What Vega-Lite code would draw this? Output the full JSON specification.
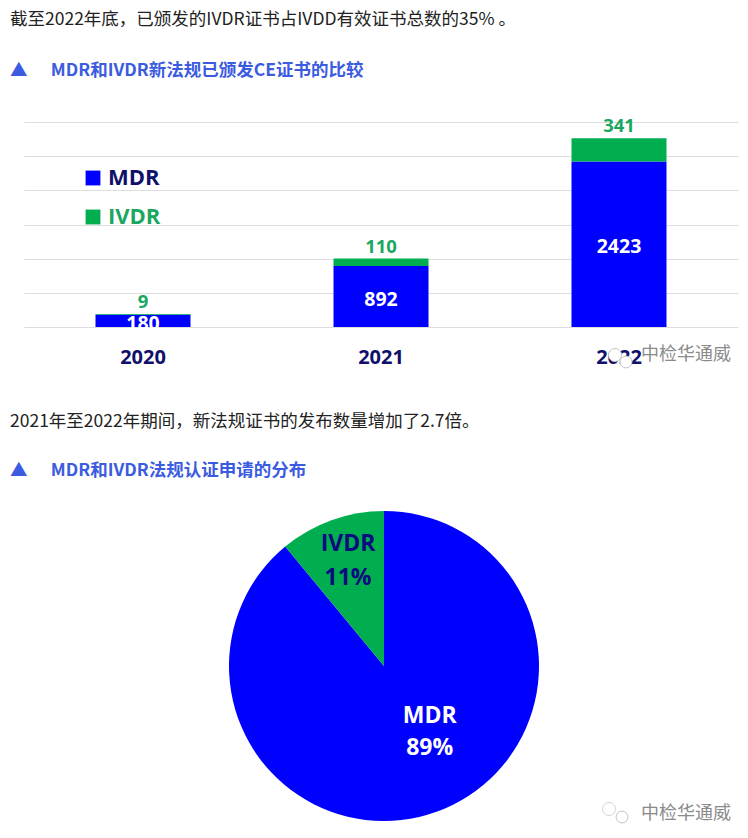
{
"$schema":"https://vega.github.io/schema/vega-lite/v6.json",
"background":"white",
"padding":{"left":10,"top":11,"right":4,"bottom":0},
"spacing":43,
"config":{"view":{"stroke":null},"font":"Noto Sans CJK SC"},
"vconcat":[
{
"title":{"text":"截至2022年底\uff0c已颁发的IVDR证书占IVDD有效证书总数的35% 。","subtitle":"▲\u2003\u2004MDR和IVDR新法规已颁发CE证书的比较","anchor":"start","dx":-14,"fontSize":17.5,"fontWeight":"normal","color":"#222222","subtitleFontSize":17.5,"subtitleFontWeight":"bold","subtitleColor":"#3b5be0","subtitlePadding":33,"offset":38,"font":"Noto Sans CJK SC","subtitleFont":"Noto Sans CJK SC"},
"width":714,"height":205,
"data":{"values":[
{"year":"2020","series":"MDR","value":180},{"year":"2020","series":"IVDR","value":9},
{"year":"2021","series":"MDR","value":892},{"year":"2021","series":"IVDR","value":110},
{"year":"2022","series":"MDR","value":2423},{"year":"2022","series":"IVDR","value":341}]},
"encoding":{
"x":{"field":"year","type":"nominal","scale":{"domain":["2020","2021","2022"],"paddingInner":0.6,"paddingOuter":0.3},"axis":{"title":null,"labelAngle":0,"domain":false,"ticks":false,"labelFontSize":20,"labelFontWeight":"bold","labelColor":"#10106a","labelPadding":20,"labelFont":"Open Sans"}}
},
"layer":[
{"mark":{"type":"bar","width":95},
"encoding":{
"y":{"field":"value","type":"quantitative","stack":"zero","scale":{"domain":[0,3000]},"axis":{"title":null,"labels":false,"ticks":false,"domain":false,"grid":true,"gridColor":"#dddddd","values":[0,500,1000,1500,2000,2500,3000]}},
"order":{"field":"series","sort":"descending"},
"color":{"field":"series","type":"nominal","scale":{"domain":["MDR","IVDR"],"range":["#0000ff","#00ae50"]},"legend":{"title":null,"orient":"none","legendX":58,"legendY":45,"symbolType":"square","symbolSize":220,"symbolStrokeWidth":0,"labelFontSize":22,"labelFontWeight":"bold","labelFont":"Open Sans","rowPadding":17,"encode":{"labels":{"update":{"fill":{"signal":"datum.value==='IVDR' ? '#1aa860' : '#10106a'"}}}}}}}},
{"mark":{"type":"text","color":"white","fontSize":19.5,"fontWeight":"bold","font":"Open Sans","dy":3},
"encoding":{"y":{"field":"value","type":"quantitative","stack":"zero","bandPosition":0.5,"axis":{"title":null,"labels":false,"ticks":false,"domain":false,"grid":true,"gridColor":"#dddddd","values":[0,500,1000,1500,2000,2500,3000]}},"order":{"field":"series","sort":"descending"},"text":{"field":"value"},"opacity":{"condition":{"test":"datum.series==='MDR'","value":1},"value":0}}},
{"mark":{"type":"text","color":"#1aa860","fontSize":18.5,"fontWeight":"bold","font":"Open Sans","dy":-12},
"encoding":{"y":{"field":"value","type":"quantitative","stack":"zero","axis":{"title":null,"labels":false,"ticks":false,"domain":false,"grid":true,"gridColor":"#dddddd","values":[0,500,1000,1500,2000,2500,3000]}},"order":{"field":"series","sort":"descending"},"text":{"field":"value"},"opacity":{"condition":{"test":"datum.series==='IVDR'","value":1},"value":0}}},
{"data":{"values":[{"year":"2022"}]},
"mark":{"type":"point","filled":false,"fill":"white","fillOpacity":1,"opacity":1,"stroke":"#c4c4c4","strokeWidth":1,"size":170,"xOffset":-4,"yOffset":28},
"encoding":{"y":{"datum":0,"axis":{"title":null,"labels":false,"ticks":false,"domain":false,"grid":true,"gridColor":"#dddddd","values":[0,500,1000,1500,2000,2500,3000]}}}},
{"data":{"values":[{"year":"2022"}]},
"mark":{"type":"point","filled":false,"fill":"white","fillOpacity":1,"opacity":1,"stroke":"#c4c4c4","strokeWidth":1,"size":140,"xOffset":7,"yOffset":35},
"encoding":{"y":{"datum":0,"axis":{"title":null,"labels":false,"ticks":false,"domain":false,"grid":true,"gridColor":"#dddddd","values":[0,500,1000,1500,2000,2500,3000]}}}},
{"data":{"values":[{"year":"2022","t":"中检华通威"}]},
"mark":{"type":"text","color":"#8a8a8a","fontSize":18,"font":"Noto Sans CJK SC","dx":67,"dy":28},
"encoding":{"y":{"datum":0,"axis":{"title":null,"labels":false,"ticks":false,"domain":false,"grid":true,"gridColor":"#dddddd","values":[0,500,1000,1500,2000,2500,3000]}},"text":{"field":"t"}}}
]
},
{
"title":{"text":"2021年至2022年期间\uff0c新法规证书的发布数量增加了2.7倍。","subtitle":"▲\u2003\u2004MDR和IVDR法规认证申请的分布","anchor":"start","dx":-14,"fontSize":17.5,"fontWeight":"normal","color":"#222222","subtitleFontSize":17.5,"subtitleFontWeight":"bold","subtitleColor":"#3b5be0","subtitlePadding":31,"offset":31,"font":"Noto Sans CJK SC","subtitleFont":"Noto Sans CJK SC"},
"width":720,"height":312,
"data":{"values":[{"label":"MDR","share":89,"text":"MDR\n89%"},{"label":"IVDR","share":11,"text":"IVDR\n11%"}]},
"layer":[
{"mark":{"type":"arc","outerRadius":155},"encoding":{"theta":{"field":"share","type":"quantitative","stack":true},"order":{"field":"share","sort":"descending"},"color":{"field":"label","type":"nominal","scale":{"domain":["MDR","IVDR"],"range":["#0000ff","#00ae50"]},"legend":null}}},
{"mark":{"type":"text","radius":70,"dx":22,"dy":-16,"color":"white","fontSize":23,"fontWeight":"bold","font":"Open Sans","lineBreak":"\n","lineHeight":32},"encoding":{"theta":{"field":"share","type":"quantitative","stack":true},"order":{"field":"share","sort":"descending"},"text":{"field":"text"},"opacity":{"condition":{"test":"datum.label==='MDR'","value":1},"value":0}}},
{"mark":{"type":"text","radius":115,"dx":3,"dy":-14,"color":"#0b0b80","fontSize":23,"fontWeight":"bold","font":"Open Sans","lineBreak":"\n","lineHeight":34},"encoding":{"theta":{"field":"share","type":"quantitative","stack":true},"order":{"field":"share","sort":"descending"},"text":{"field":"text"},"opacity":{"condition":{"test":"datum.label==='IVDR'","value":1},"value":0}}},
{"data":{"values":[{"t":"a"}]},
"mark":{"type":"point","filled":false,"stroke":"#c4c4c4","strokeWidth":1,"size":170,"xOffset":225,"yOffset":143},
"encoding":{"x":{"datum":"水印","type":"nominal","axis":null},"y":{"datum":"水印","type":"nominal","axis":null}}},
{"data":{"values":[{"t":"b"}]},
"mark":{"type":"point","filled":false,"fill":"white","fillOpacity":1,"stroke":"#c4c4c4","strokeWidth":1,"size":140,"xOffset":238,"yOffset":151},
"encoding":{"x":{"datum":"水印","type":"nominal","axis":null},"y":{"datum":"水印","type":"nominal","axis":null}}},
{"data":{"values":[{"t":"中检华通威"}]},
"mark":{"type":"text","color":"#8a8a8a","fontSize":18,"font":"Noto Sans CJK SC","dx":302,"dy":148},
"encoding":{"x":{"datum":"水印","type":"nominal","axis":null},"y":{"datum":"水印","type":"nominal","axis":null},"text":{"field":"t"}}}
]
}
]
}
